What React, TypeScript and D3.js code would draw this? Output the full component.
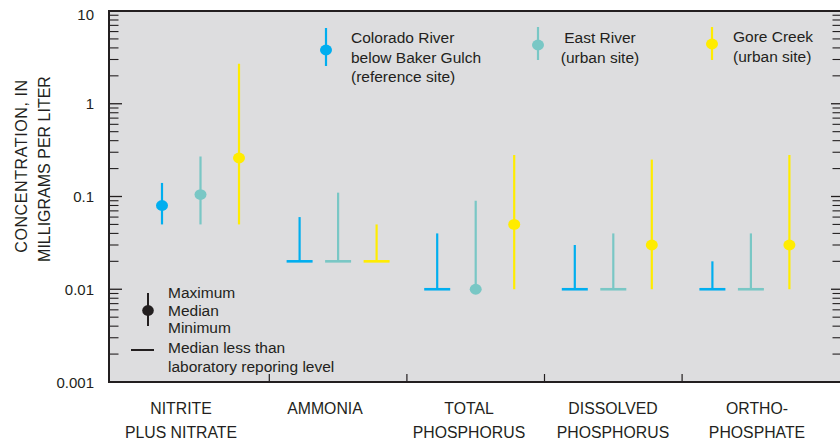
import React from "react";
import * as d3 from "d3";

// Constituent groups along the x axis (multi-line labels)
const categoryLabels: string[][] = [
  ["NITRITE", "PLUS NITRATE"],
  ["AMMONIA"],
  ["TOTAL", "PHOSPHORUS"],
  ["DISSOLVED", "PHOSPHORUS"],
  ["ORTHO-", "PHOSPHATE"],
];
const categories = ["nitrate", "ammonia", "totalP", "dissolvedP", "orthoP"];

// Sites
const siteKeys = ["colorado", "east", "gore"];
const siteColors = ["#00AEEF", "#79C7C5", "#FFEC00"];

// Concentrations, mg/L; a null median means median below reporting level
const coloradoMax = [0.14, 0.06, 0.04, 0.03, 0.02];
const coloradoMedian: (number | null)[] = [0.08, null, null, null, null];
const coloradoMin = [0.05, 0.02, 0.01, 0.01, 0.01];

const eastMax = [0.27, 0.11, 0.09, 0.04, 0.04];
const eastMedian: (number | null)[] = [0.105, null, 0.01, null, null];
const eastMin = [0.05, 0.02, 0.01, 0.01, 0.01];

const goreMax = [2.7, 0.05, 0.28, 0.25, 0.28];
const goreMedian: (number | null)[] = [0.26, null, 0.05, 0.03, 0.03];
const goreMin = [0.05, 0.02, 0.01, 0.01, 0.01];

const yTickValues = [0.001, 0.01, 0.1, 1, 10];
const yTickLabels = ["0.001", "0.01", "0.1", "1", "10"];

const seriesMax = [coloradoMax, eastMax, goreMax];
const seriesMedian = [coloradoMedian, eastMedian, goreMedian];
const seriesMin = [coloradoMin, eastMin, goreMin];

const FONT = "'Liberation Sans', Arial, Helvetica, sans-serif";
const INK = "#231F20";

export default function App() {
  const W = 840;
  const H = 443;
  const left = 109;
  const top = 11;
  const bottom = 382;
  const rightAxis = 842;

  const y = d3.scaleLog().domain([0.001, 10]).range([bottom, top]);
  const xGroup = d3.scaleBand<string>().domain(categories).range([131.7, 819.7]).padding(0);
  const xSite = d3.scalePoint<string>().domain(siteKeys).range([-38.5, 38.5]);
  const xLabel = d3.scaleBand<string>().domain(categories).range([left, 829]).padding(0);

  // Log minor ticks 2..9 in every decade
  const minorTicks: number[] = [];
  for (let e = -3; e < 1; e++) {
    for (let m = 2; m <= 9; m++) minorTicks.push(m * Math.pow(10, e));
  }

  const groupBoundaries = categories.slice(1).map((c) => xGroup(c)!);

  return (
    <svg width={W} height={H} style={{ display: "block", position: "absolute", left: 0, top: 0 }}>
      <rect x={0} y={0} width={W} height={H} fill="#ffffff" />
      {/* plot area */}
      <rect x={left} y={top} width={rightAxis - left} height={bottom - top} fill="#DDDDDF" />

      {/* left axis ticks */}
      {yTickValues.map((v) => (
        <line key={"lM" + v} x1={left} x2={left + 13} y1={y(v)} y2={y(v)} stroke={INK} strokeWidth={1.3} />
      ))}
      {minorTicks.map((v) => (
        <line key={"lm" + v} x1={left} x2={left + 9.5} y1={y(v)} y2={y(v)} stroke={INK} strokeWidth={1.1} />
      ))}
      {/* right axis ticks */}
      {yTickValues.map((v) => (
        <line key={"rM" + v} x1={rightAxis} x2={rightAxis - 11} y1={y(v)} y2={y(v)} stroke={INK} strokeWidth={1.3} />
      ))}
      {minorTicks.map((v) => (
        <line key={"rm" + v} x1={rightAxis} x2={rightAxis - 9.5} y1={y(v)} y2={y(v)} stroke={INK} strokeWidth={1.1} />
      ))}

      {/* bottom ticks between groups */}
      {groupBoundaries.map((bx, i) => (
        <line key={"bt" + i} x1={bx} x2={bx} y1={bottom} y2={bottom - 8} stroke={INK} strokeWidth={1.2} />
      ))}

      {/* frame */}
      <line x1={left} x2={W} y1={top} y2={top} stroke={INK} strokeWidth={2} />
      <line x1={left} x2={W} y1={bottom} y2={bottom} stroke={INK} strokeWidth={2.2} />
      <line x1={left} x2={left} y1={top - 1} y2={bottom + 1} stroke={INK} strokeWidth={2} />

      {/* y tick labels */}
      {yTickValues.map((v, i) => (
        <text
          key={"yl" + v}
          x={94}
          y={y(v) + (v === 10 ? 3 : 0)}
          textAnchor="end"
          dominantBaseline="central"
          fontFamily={FONT}
          fontSize={15}
          fill={INK}
        >
          {yTickLabels[i]}
        </text>
      ))}

      {/* y axis title */}
      <g transform="translate(27,166) rotate(-90)">
        <text x={0} y={0} textAnchor="middle" fontFamily={FONT} fontSize={16} letterSpacing={0.6} fill={INK}>
          CONCENTRATION, IN
        </text>
      </g>
      <g transform="translate(50,169) rotate(-90)">
        <text x={0} y={0} textAnchor="middle" fontFamily={FONT} fontSize={16} fill={INK}>
          MILLIGRAMS PER LITER
        </text>
      </g>

      {/* category labels */}
      {categories.map((c, i) => (
        <text
          key={"cl" + c}
          x={xLabel(c)! + xLabel.bandwidth() / 2}
          textAnchor="middle"
          fontFamily={FONT}
          fontSize={15.8}
          fill={INK}
        >
          {categoryLabels[i].map((line, j) => (
            <tspan key={j} x={xLabel(c)! + xLabel.bandwidth() / 2} y={414 + j * 23.5}>
              {line}
            </tspan>
          ))}
        </text>
      ))}

      {/* data marks */}
      {siteKeys.map((s, si) =>
        categories.map((c, ci) => {
          const cx = xGroup(c)! + xGroup.bandwidth() / 2 + xSite(s)!;
          const mx = seriesMax[si][ci];
          const mn = seriesMin[si][ci];
          const md = seriesMedian[si][ci];
          const col = siteColors[si];
          return (
            <g key={s + c}>
              <line x1={cx} x2={cx} y1={y(mn)} y2={y(mx)} stroke={col} strokeWidth={2.2} />
              {md === null ? (
                <line x1={cx - 13} x2={cx + 13} y1={y(mn)} y2={y(mn)} stroke={col} strokeWidth={2.6} />
              ) : (
                <ellipse cx={cx} cy={y(md)} rx={6} ry={5.4} fill={col} />
              )}
            </g>
          );
        })
      )}

      {/* site legend */}
      <g fontFamily={FONT} fontSize={15.5} fill={INK}>
        <line x1={326} x2={326} y1={28} y2={66} stroke={siteColors[0]} strokeWidth={2.2} />
        <ellipse cx={326} cy={50} rx={6} ry={5.4} fill={siteColors[0]} />
        <text x={351} y={43}>Colorado River</text>
        <text x={351} y={62.5}>below Baker Gulch</text>
        <text x={351} y={82}>(reference site)</text>

        <line x1={538} x2={538} y1={27} y2={60} stroke={siteColors[1]} strokeWidth={2.2} />
        <ellipse cx={538} cy={45} rx={6} ry={5.4} fill={siteColors[1]} />
        <text x={600} y={43} textAnchor="middle">East River</text>
        <text x={600} y={62.5} textAnchor="middle">(urban site)</text>

        <line x1={712} x2={712} y1={27} y2={60} stroke={siteColors[2]} strokeWidth={2.2} />
        <ellipse cx={712} cy={44} rx={6} ry={5.4} fill={siteColors[2]} />
        <text x={733} y={42}>Gore Creek</text>
        <text x={733} y={61.5}>(urban site)</text>
      </g>

      {/* symbol legend */}
      <g fontFamily={FONT} fontSize={15.5} fill={INK}>
        <line x1={148} x2={148} y1={293} y2={326} stroke={INK} strokeWidth={2} />
        <ellipse cx={148} cy={310.5} rx={5.8} ry={5.4} fill={INK} />
        <text x={168} y={298}>Maximum</text>
        <text x={168} y={315.5}>Median</text>
        <text x={168} y={333}>Minimum</text>
        <line x1={131} x2={154} y1={350} y2={350} stroke={INK} strokeWidth={2} />
        <text x={168} y={353}>Median less than</text>
        <text x={168} y={371.5}>laboratory reporing level</text>
      </g>
    </svg>
  );
}
